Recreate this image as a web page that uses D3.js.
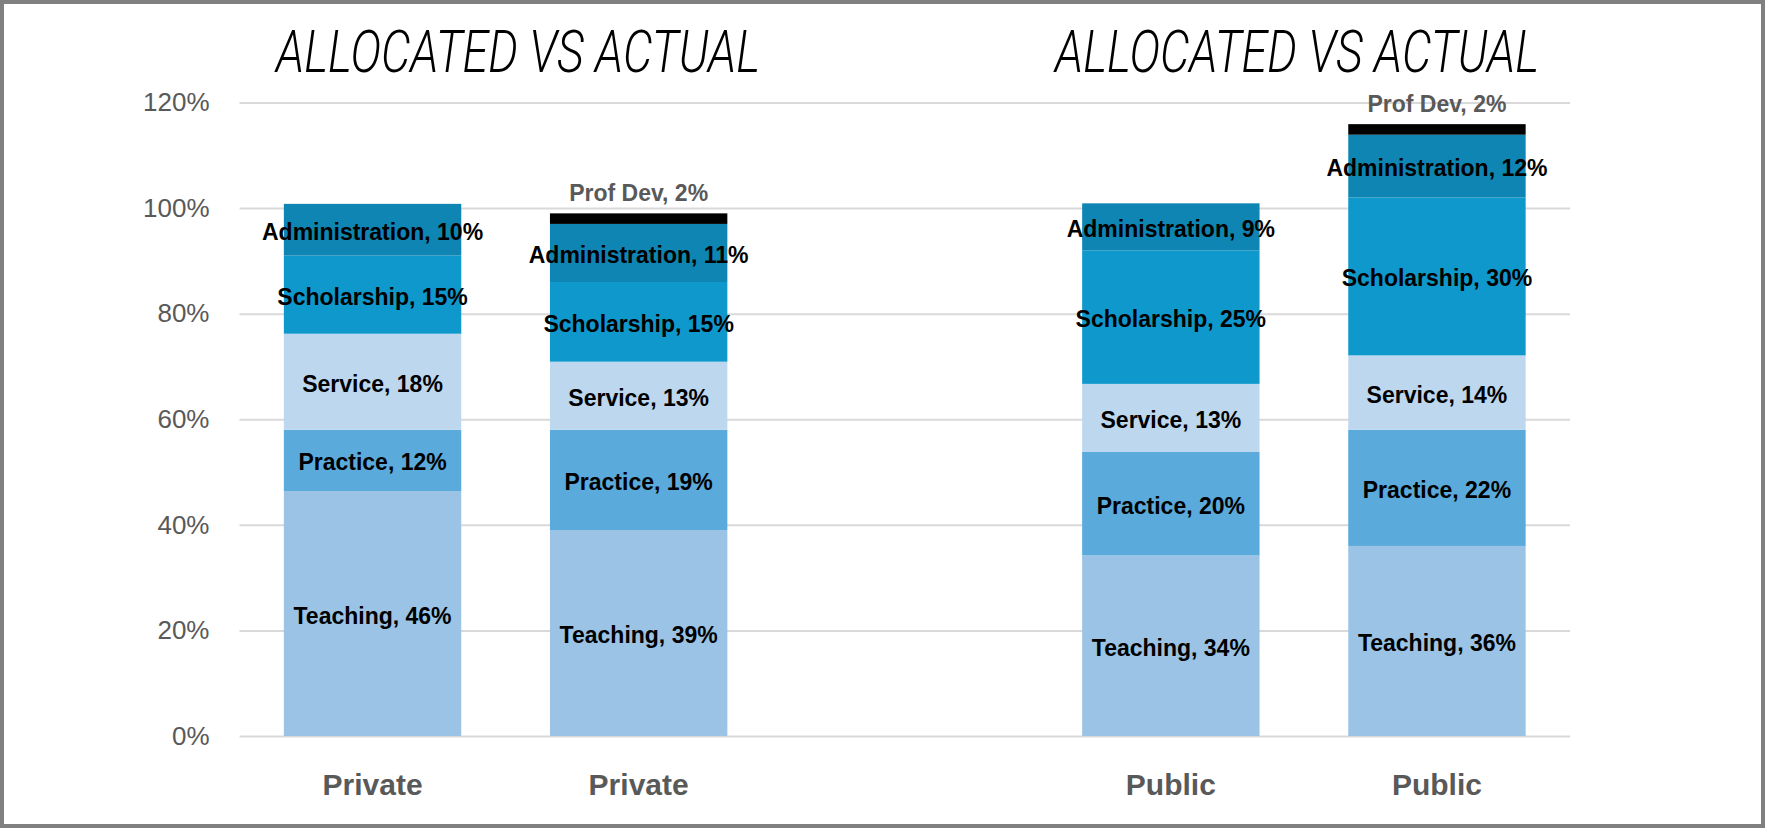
<!DOCTYPE html>
<html>
<head>
<meta charset="utf-8">
<script src="https://cdn.jsdelivr.net/npm/d3@7"></script>
<style>
  body { margin: 0; background: #ffffff; }
  svg { display: block; }
</style>
</head>
<body>
<svg id="chart"></svg>
<script>
// categories (the empty one is the gap between the two groups)
var categories = ["Private", "Private", "", "Public", "Public"];
var seriesNames = ["Teaching", "Practice", "Service", "Scholarship", "Administration", "Prof Dev"];

// values in percent, one per category
var teaching       = [46.4, 39.0, 0, 34.2, 36.0];
var practice       = [11.6, 19.0, 0, 19.6, 22.0];
var service        = [18.2, 12.9, 0, 12.9, 14.1];
var scholarship    = [14.8, 15.1, 0, 25.3, 29.9];
var administration = [9.8, 11.0, 0, 8.9, 11.9];
var profDev        = [0, 2.0, 0, 0, 2.0];

var tickValues = [0, 20, 40, 60, 80, 100, 120];
var titles = ["ALLOCATED VS ACTUAL", "ALLOCATED VS ACTUAL"];

var colors = d3.scaleOrdinal()
    .domain(seriesNames)
    .range(["#9ac3e5", "#5aaadb", "#bdd7ee", "#0f98cc", "#0e85b3", "#000000"]);

var width = 1765, height = 828;

var svg = d3.select('svg#chart')
    .attr('width', width)
    .attr('height', height);

// build rows for the stack
var rows = categories.map(function (c, i) {
    return {
        idx: i,
        name: c,
        "Teaching": teaching[i],
        "Practice": practice[i],
        "Service": service[i],
        "Scholarship": scholarship[i],
        "Administration": administration[i],
        "Prof Dev": profDev[i]
    };
});

var x = d3.scaleBand()
    .domain(rows.map(function (d) { return d.idx; }))
    .range([239.5, 1570])
    .paddingInner(1 / 3)
    .paddingOuter(1 / 6);

var y = d3.scaleLinear()
    .domain([0, 120])
    .range([736, 102.5]);

// gridlines
var yAxis = d3.axisLeft(y)
    .tickValues(tickValues)
    .tickSize(-(1570 - 239.5))
    .tickPadding(30)
    .tickFormat(function (d) { return d + "%"; });

var gAxis = svg.append('g')
    .attr('transform', 'translate(239.5,0)')
    .call(yAxis);
gAxis.select('.domain').remove();
gAxis.selectAll('line')
    .attr('stroke', '#d9d9d9')
    .attr('stroke-width', 2);
gAxis.selectAll('text')
    .attr('fill', '#595959')
    .style('font-family', '"Liberation Sans", Arial, sans-serif')
    .style('font-size', '26px');

var stack = d3.stack().keys(seriesNames);
var layers = stack(rows);

var gLayers = svg.append('g')
    .selectAll('g')
    .data(layers)
    .enter()
    .append('g')
    .attr('fill', function (d) { return colors(d.key); });

gLayers.selectAll('rect')
    .data(function (d) { return d; })
    .enter()
    .filter(function (d) { return d[1] - d[0] > 0; })
    .append('rect')
    .attr('x', function (d) { return x(d.data.idx); })
    .attr('width', x.bandwidth())
    .attr('y', function (d) { return y(d[1]); })
    .attr('height', function (d) { return y(d[0]) - y(d[1]); });

// data labels
var labelFont = '"Liberation Sans", Arial, sans-serif';
layers.forEach(function (layer) {
    var key = layer.key;
    layer.forEach(function (d) {
        var v = d[1] - d[0];
        if (v <= 0) return;
        var cx = x(d.data.idx) + x.bandwidth() / 2;
        var cy = (y(d[0]) + y(d[1])) / 2 + 2;
        var fill = '#000000';
        if (key === "Prof Dev") {
            cy = y(d[1]) - 20;
            fill = '#595959';
        }
        svg.append('text')
            .attr('x', cx)
            .attr('y', cy)
            .attr('text-anchor', 'middle')
            .attr('dominant-baseline', 'central')
            .attr('fill', fill)
            .style('font-family', labelFont)
            .style('font-weight', 'bold')
            .style('font-size', '23px')
            .text(key + ", " + Math.round(v) + "%");
    });
});

// category labels
svg.append('g')
    .selectAll('text')
    .data(rows.filter(function (d) { return d.name !== ""; }))
    .enter()
    .append('text')
    .attr('x', function (d) { return x(d.idx) + x.bandwidth() / 2; })
    .attr('y', 795)
    .attr('text-anchor', 'middle')
    .attr('fill', '#595959')
    .style('font-family', labelFont)
    .style('font-weight', 'bold')
    .style('font-size', '30px')
    .text(function (d) { return d.name; });

// titles, one over each group
var titleX = [518, 1297];
var titleWidth = 484;
svg.selectAll('.title')
    .data(titles)
    .enter()
    .append('text')
    .attr('class', 'title')
    .attr('x', function (d, i) { return titleX[i]; })
    .attr('y', 72)
    .attr('text-anchor', 'middle')
    .attr('fill', '#000000')
    .style('font-family', 'Roboto, sans-serif')
    .style('font-style', 'italic')
    .style('font-weight', '300')
    .style('font-size', '60px')
    .text(function (d) { return d; })
    .each(function () {
        // squeeze to the narrow width of the original title
        var w = this.getComputedTextLength();
        if (w > titleWidth) {
            d3.select(this)
                .attr('textLength', titleWidth)
                .attr('lengthAdjust', 'spacingAndGlyphs');
        }
    });

// grey frame round the picture
svg.append('rect')
    .attr('x', 2)
    .attr('y', 2)
    .attr('width', width - 4)
    .attr('height', height - 4)
    .attr('fill', 'none')
    .attr('stroke', '#808080')
    .attr('stroke-width', 4);
</script>
</body>
</html>
